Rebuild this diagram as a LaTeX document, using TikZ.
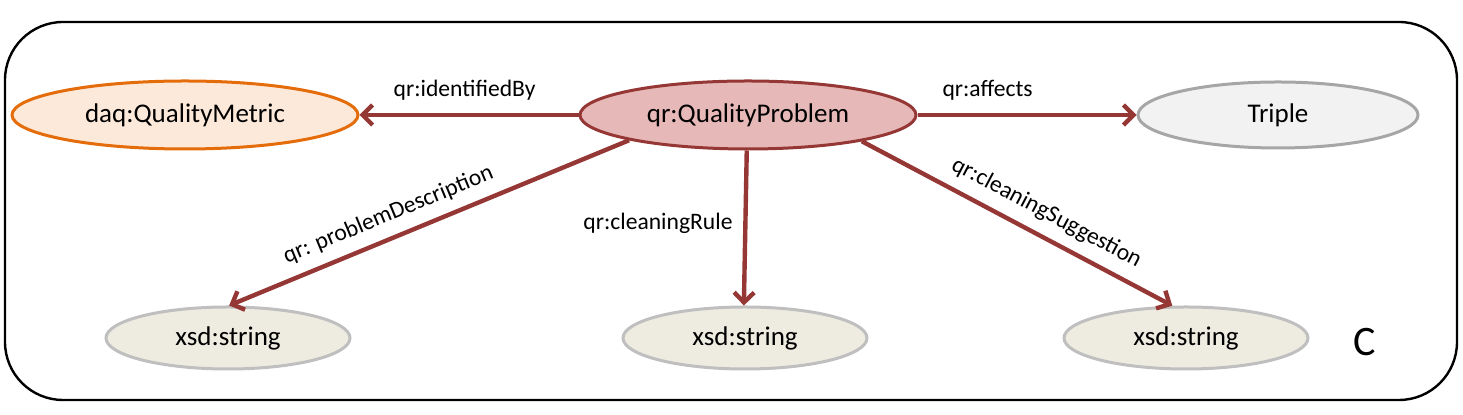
\documentclass[tikz,border=0pt]{standalone}
\usepackage{fontspec}
\setmainfont{Carlito}
\usetikzlibrary{shapes.geometric,arrows.meta}
\definecolor{arrowred}{HTML}{953735}
\definecolor{qpfill}{HTML}{E6B9B8}
\definecolor{qmfill}{HTML}{FDE9D9}
\definecolor{qmdraw}{HTML}{E46C0A}
\definecolor{trfill}{HTML}{F2F2F2}
\definecolor{trdraw}{HTML}{A6A6A6}
\definecolor{xsfill}{HTML}{EEECE1}
\definecolor{xsdraw}{HTML}{BFBFBF}
\tikzset{
  cls/.style={ellipse, inner sep=0pt, line width=1.5pt, font=\fontsize{13.5}{15}\selectfont},
  qmnode/.style={cls, draw=qmdraw, fill=qmfill, minimum width=173pt, minimum height=34pt},
  qpnode/.style={cls, draw=arrowred, fill=qpfill, minimum width=168pt, minimum height=34pt},
  trnode/.style={cls, draw=trdraw, fill=trfill, minimum width=140pt, minimum height=33pt},
  xsnode/.style={cls, draw=xsdraw, fill=xsfill, minimum width=122pt, minimum height=31pt},
  rel/.style={draw=arrowred, line width=2.2pt, -{Straight Barb[length=5pt,width=10pt]}},
  lbl/.style={font=\fontsize{11.8}{13}\selectfont, text=black}
}
\begin{document}
\begin{tikzpicture}[x=0.5pt,y=-0.5pt]
\useasboundingbox (0,0) rectangle (1463,415);
\draw[line width=1.2pt, rounded corners=29pt] (5,22) rectangle (1457,400);
\node[qmnode] (qm) at (185,115) {daq:QualityMetric};
\node[qpnode] (qp) at (748,115) {qr:QualityProblem};
\node[trnode] (tr) at (1278,115) {Triple};
\node[xsnode] (x1) at (228,338) {xsd:string};
\node[xsnode] (x2) at (745,338) {xsd:string};
\node[xsnode] (x3) at (1186,338) {xsd:string};
\node[font=\fontsize{21}{23}\selectfont] (c) at (1365,342) {C};
\draw[rel] (qp.west) -- node[lbl, above=3pt, pos=0.52] {qr:identifiedBy} (qm.east);
\draw[rel] (qp.east) -- node[lbl, above=3pt, pos=0.32] {qr:affects} (tr.west);
\draw[rel] (qp.192) -- node[lbl, sloped, above=2pt, pos=0.58] {qr: problemDescription} (x1.88);
\draw[rel] (qp.268) -- node[lbl, left=2pt, pos=0.47] {qr:cleaningRule} (x2.92);
\draw[rel] (qp.-13) -- node[lbl, sloped, above=2pt, pos=0.56] {qr:cleaningSuggestion} (x3.113);
\end{tikzpicture}
\end{document}
